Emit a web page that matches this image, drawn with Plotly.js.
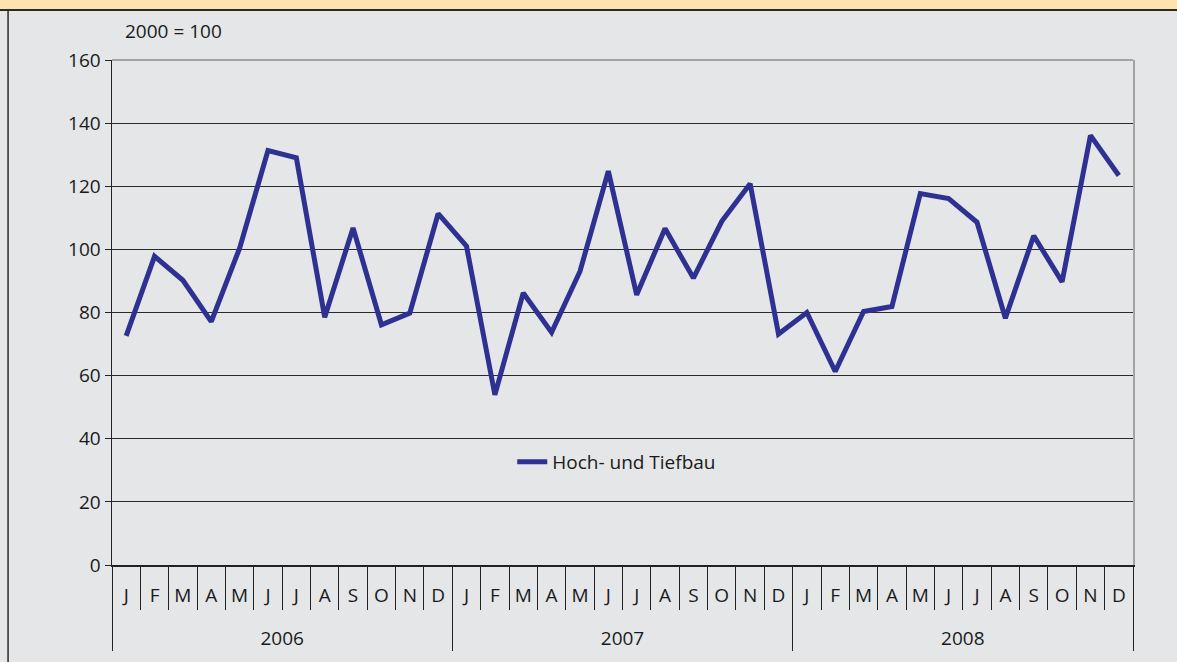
<!DOCTYPE html>
<html>
<head>
<meta charset="utf-8">
<script src="https://cdn.plot.ly/plotly-3.0.1.min.js"></script>
<style>
html,body{margin:0;padding:0;background:#e5e6e8;}
#chart{width:1177px;height:662px;}
</style>
</head>
<body>
<div id="chart"></div>
<script>
const monthLabels = ["J","F","M","A","M","J","J","A","S","O","N","D"];
const years = ["2006","2007","2008"];
const seriesName = "Hoch- und Tiefbau";
const values2006 = [72.6, 97.8, 90.2, 77.1, 100.4, 131.3, 129.0, 78.5, 106.8, 76.1, 79.8, 111.3];
const values2007 = [101.0, 53.9, 86.2, 73.7, 93.0, 124.8, 85.6, 106.6, 90.9, 108.9, 120.8, 73.2];
const values2008 = [80.0, 61.3, 80.3, 81.9, 117.7, 116.1, 108.6, 78.2, 104.3, 89.7, 136.1, 123.4];
const yTicks = [0, 20, 40, 60, 80, 100, 120, 140, 160];
const baseNote = "2000 = 100";

const values = values2006.concat(values2007, values2008);
const n = values.length;
const xIdx = values.map((_, i) => i);
const allMonthText = [];
years.forEach(() => monthLabels.forEach(m => allMonthText.push(m)));
const monthTicks = xIdx.slice();
const monthBounds = [];
for (let i = 0; i <= n; i++) monthBounds.push(i - 0.5);
const yearBounds = [];
for (let k = 0; k <= years.length; k++) yearBounds.push(k * 12 - 0.5);
const yearCenters = years.map((_, k) => k * 12 + 5.5);

const xr = [-0.5, n - 0.5];
const fontFam = "'Open Sans', 'Noto Sans', sans-serif";
const FS = 19;
const txt = "#1a1a1a";

const mainTrace = {
  x: xIdx, y: values, type: "scatter", mode: "lines",
  name: seriesName,
  line: {color: "#2e3192", width: 5},
  hoverinfo: "skip"
};
// helper traces so that the overlaying axes get drawn (fully transparent)
function ghost(xa, ya) {
  return {x: xIdx, y: values, type: "scatter", mode: "lines", xaxis: xa, yaxis: ya,
    opacity: 0, showlegend: false, hoverinfo: "skip", line: {width: 0}};
}
const data = [ghost("x2", "y"), ghost("x3", "y"), ghost("x4", "y"), ghost("x", "y2"), mainTrace];

const layout = {
  width: 1177, height: 662,
  margin: {l: 112, r: 44, t: 60, b: 97},
  paper_bgcolor: "#e5e6e8",
  plot_bgcolor: "#e5e6e8",
  font: {family: fontFam, size: FS, color: txt},
  showlegend: true,
  legend: {
    x: 0.392, y: 0.204, xanchor: "left", yanchor: "middle",
    bgcolor: "rgba(0,0,0,0)", font: {size: FS, family: fontFam, color: txt},
    itemwidth: 30
  },
  xaxis: {
    range: xr, tickmode: "array", tickvals: monthTicks, ticktext: allMonthText,
    ticks: "outside", ticklen: 13, tickcolor: "rgba(0,0,0,0)",
    showgrid: false, zeroline: false, showline: false,
    tickfont: {size: FS, family: fontFam, color: txt}
  },
  xaxis2: {
    overlaying: "x", anchor: "y", side: "bottom", range: xr,
    tickmode: "array", tickvals: monthBounds, ticks: "outside", ticklen: 43,
    tickcolor: "#222", tickwidth: 1, showticklabels: false,
    showgrid: false, zeroline: false, showline: true, linecolor: "#222", linewidth: 1.5
  },
  xaxis3: {
    overlaying: "x", anchor: "y", side: "bottom", range: xr,
    tickmode: "array", tickvals: yearBounds, ticks: "outside", ticklen: 85,
    tickcolor: "#222", tickwidth: 1, showticklabels: false,
    showgrid: false, zeroline: false, showline: false
  },
  xaxis4: {
    overlaying: "x", anchor: "y", side: "bottom", range: xr,
    tickmode: "array", tickvals: yearCenters, ticktext: years,
    ticks: "outside", ticklen: 56, tickcolor: "rgba(0,0,0,0)",
    showgrid: false, zeroline: false, showline: false,
    tickfont: {size: FS, family: fontFam, color: txt}
  },
  yaxis: {
    range: [0, 160], tickmode: "array", tickvals: yTicks,
    ticks: "outside", ticklen: 6, tickcolor: "#222",
    showgrid: true, gridcolor: "#2a2a2a", gridwidth: 1.2,
    zeroline: false, showline: true, linecolor: "#222", linewidth: 1.5,
    tickfont: {size: FS, family: fontFam, color: txt}
  },
  yaxis2: {
    overlaying: "y", side: "right", anchor: "x", range: [0, 160],
    showline: true, linecolor: "#a3a3a3", linewidth: 2,
    showgrid: false, zeroline: false, showticklabels: false, ticks: ""
  },
  annotations: [{
    text: baseNote, xref: "paper", yref: "paper",
    x: 0.011, y: 1.058, xanchor: "left", yanchor: "middle",
    showarrow: false, font: {size: FS, family: fontFam, color: txt}
  }],
  shapes: [
    {type: "rect", xref: "paper", yref: "paper", x0: -0.12, x1: 1.05, y0: 1.099, y1: 1.13,
     fillcolor: "#fde3b0", line: {width: 0}, layer: "below"},
    {type: "line", xref: "paper", yref: "paper", x0: -0.12, x1: 1.05, y0: 1.099, y1: 1.099,
     line: {color: "#2a2a2a", width: 2}},
    {type: "line", xref: "paper", yref: "paper", x0: -0.1018, x1: -0.1018, y0: -0.2, y1: 1.099,
     line: {color: "#2a2a2a", width: 1.5}},
    {type: "line", xref: "paper", yref: "paper", x0: 0, x1: 1, y0: 1, y1: 1,
     line: {color: "#a3a3a3", width: 2}}
  ]
};

Plotly.newPlot("chart", data, layout, {displayModeBar: false, staticPlot: true});
</script>
</body>
</html>
